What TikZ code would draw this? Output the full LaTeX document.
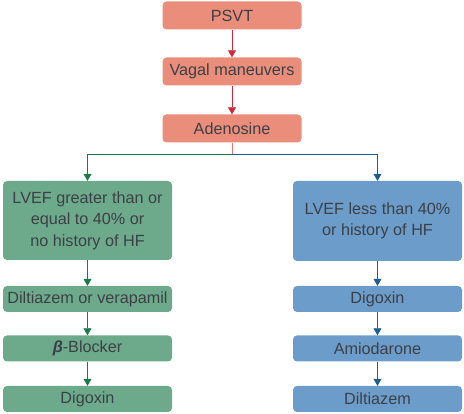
\documentclass[tikz,border=0pt]{standalone}
\usepackage{fontspec}
\setmainfont{Liberation Sans}
\usetikzlibrary{arrows.meta}
\definecolor{salmon}{HTML}{EA8D7B}
\definecolor{redline}{HTML}{CC2A38}
\definecolor{greenbox}{HTML}{6DAA8B}
\definecolor{greenline}{HTML}{1B7A4A}
\definecolor{bluebox}{HTML}{6C9CC9}
\definecolor{blueline}{HTML}{1D5D94}
\definecolor{txt}{HTML}{3C4046}
\begin{document}
\begin{tikzpicture}[x=1pt, y=-1pt, font=\fontsize{16.2}{21.5}\selectfont,
  topbox/.style={fill=salmon, rounded corners=4pt, minimum width=139pt, minimum height=28pt, text=txt, inner sep=0pt},
  gbox/.style={fill=greenbox, rounded corners=4pt, minimum width=169pt, minimum height=26pt, text=txt, inner sep=0pt},
  bbox/.style={fill=bluebox, rounded corners=4pt, minimum width=169pt, minimum height=26pt, text=txt, inner sep=0pt},
  redarr/.style={draw=redline, line width=0.8pt, -{Triangle[length=7pt,width=8pt]}},
  greenarr/.style={draw=greenline, line width=0.8pt, -{Triangle[length=7pt,width=8pt]}},
  bluearr/.style={draw=blueline, line width=0.8pt, -{Triangle[length=7pt,width=8pt]}}]
  \useasboundingbox (0,0) rectangle (464,414);
  % top part
  \node[topbox] (psvt) at (232,15.5) {PSVT};
  \node[topbox] (vagal) at (232,71.5) {Vagal maneuvers};
  \node[topbox] (aden) at (232,128.5) {Adenosine};
  \draw[redarr] (psvt) -- (vagal);
  \draw[redarr] (vagal) -- (aden);
  % split
  \coordinate (split) at (232,154);
  \node[gbox, minimum height=79pt, align=center] (lvefg) at (87.5,220.5)
    {LVEF greater than or\\equal to 40\% or\\no history of HF};
  \node[bbox, minimum height=80pt, align=center] (lvefb) at (377.5,221)
    {LVEF less than 40\%\\or history of HF};
  \draw[draw=salmon!80!redline, line width=0.8pt] (aden.south) -- (split);
  \draw[greenarr] (split) -| (lvefg.north);
  \draw[bluearr] (split) -| (lvefb.north);
  % left column
  \node[gbox] (dilt) at (87.5,299) {Diltiazem or verapamil};
  \node[gbox] (beta) at (87.5,348.5) {{\bfseries\itshape β}-Blocker};
  \node[gbox] (digl) at (87.5,399) {Digoxin};
  \draw[greenarr] (lvefg) -- (dilt);
  \draw[greenarr] (dilt) -- (beta);
  \draw[greenarr] (beta) -- (digl);
  % right column
  \node[bbox] (digr) at (377.5,299) {Digoxin};
  \node[bbox] (amio) at (377.5,348.5) {Amiodarone};
  \node[bbox] (diltr) at (377.5,399) {Diltiazem};
  \draw[bluearr] (lvefb) -- (digr);
  \draw[bluearr] (digr) -- (amio);
  \draw[bluearr] (amio) -- (diltr);
\end{tikzpicture}
\end{document}
